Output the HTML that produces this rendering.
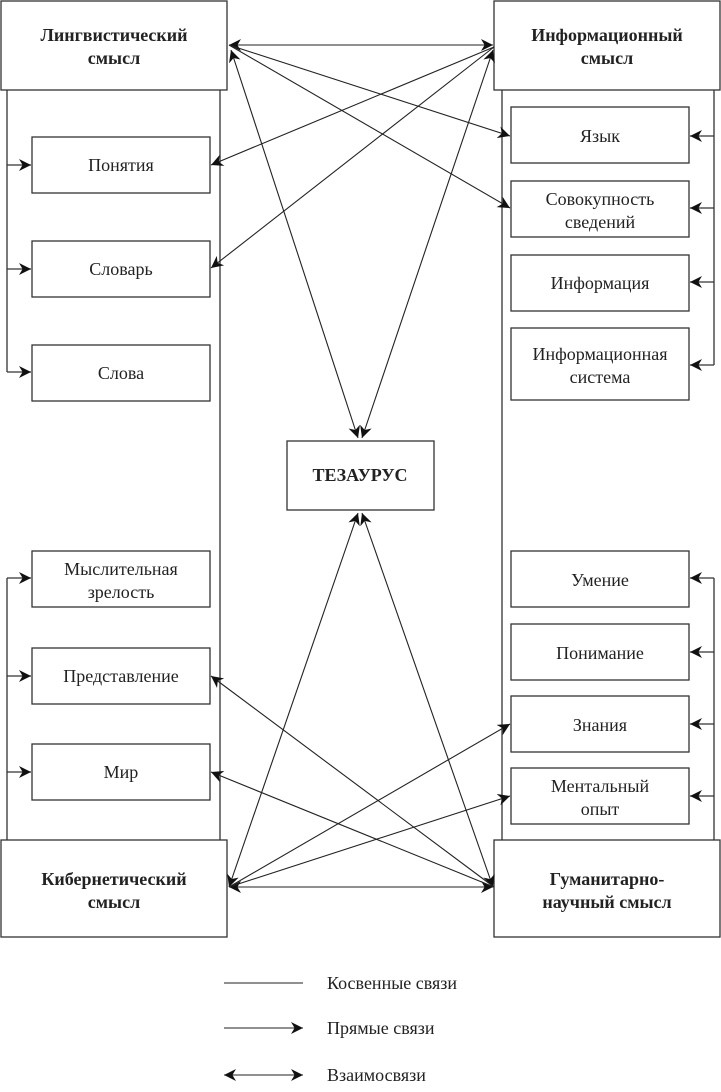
<!DOCTYPE html>
<html><head><meta charset="utf-8"><style>
body{margin:0;background:#fff}
svg{display:block}
text{font-family:"Liberation Serif",serif;font-size:18px;fill:#222}
.b{font-weight:bold}
</style></head><body>
<svg width="721" height="1092" viewBox="0 0 721 1092">
<defs>
<marker id="a" viewBox="0 0 10 10" refX="10" refY="5" markerWidth="12" markerHeight="12" markerUnits="userSpaceOnUse" orient="auto-start-reverse"><path d="M0,0 L10,5 L0,10 L3,5 z" fill="#111"/></marker>
</defs>
<g fill="none" stroke="#333" stroke-width="1.3">
<path d="M7,90 V372 M7,578 V840 M220,90 V840 M502,90 V840 M714,90 V365 M714,578 V840"/>
</g>
<g fill="none" stroke="#333" stroke-width="1.3" marker-end="url(#a)">
<path d="M7,165 H31"/><path d="M7,269 H31"/><path d="M7,372 H31"/>
<path d="M7,578 H31"/><path d="M7,676 H31"/><path d="M7,772 H31"/>
<path d="M714,136 H690"/><path d="M714,208 H690"/><path d="M714,282 H690"/><path d="M714,365 H690"/>
<path d="M714,578 H690"/><path d="M714,652 H690"/><path d="M714,724 H690"/><path d="M714,796 H690"/>
</g>
<g fill="none" stroke="#333" stroke-width="1.3">
<rect x="1" y="1" width="226" height="89" fill="#fff"/>
<rect x="494" y="1" width="226" height="89" fill="#fff"/>
<rect x="1" y="840" width="226" height="97" fill="#fff"/>
<rect x="494" y="840" width="226" height="97" fill="#fff"/>
<rect x="287" y="441" width="147" height="69"/>
<rect x="32" y="137" width="178" height="56"/>
<rect x="32" y="241" width="178" height="56"/>
<rect x="32" y="345" width="178" height="56"/>
<rect x="32" y="551" width="178" height="56"/>
<rect x="32" y="648" width="178" height="56"/>
<rect x="32" y="744" width="178" height="56"/>
<rect x="511" y="107" width="178" height="56"/>
<rect x="511" y="181" width="178" height="56"/>
<rect x="511" y="255" width="178" height="56"/>
<rect x="511" y="328" width="178" height="72"/>
<rect x="511" y="551" width="178" height="56"/>
<rect x="511" y="624" width="178" height="56"/>
<rect x="511" y="696" width="178" height="56"/>
<rect x="511" y="768" width="178" height="56"/>
</g>
<g fill="none" stroke="#222" stroke-width="1.1">
<line x1="229" y1="45" x2="493" y2="45" marker-start="url(#a)" marker-end="url(#a)"/>
<line x1="494" y1="47" x2="211" y2="165" marker-end="url(#a)"/>
<line x1="494" y1="47" x2="211" y2="268" marker-end="url(#a)"/>
<line x1="229" y1="45" x2="510" y2="136" marker-end="url(#a)"/>
<line x1="229" y1="45" x2="510" y2="208" marker-end="url(#a)"/>
<line x1="231" y1="50" x2="358" y2="438" marker-start="url(#a)" marker-end="url(#a)"/>
<line x1="493" y1="50" x2="362" y2="438" marker-start="url(#a)" marker-end="url(#a)"/>
<line x1="229" y1="887" x2="358" y2="513" marker-start="url(#a)" marker-end="url(#a)"/>
<line x1="493" y1="887" x2="362" y2="513" marker-start="url(#a)" marker-end="url(#a)"/>
<line x1="229" y1="887" x2="493" y2="887" marker-start="url(#a)" marker-end="url(#a)"/>
<line x1="494" y1="887" x2="211" y2="676" marker-end="url(#a)"/>
<line x1="494" y1="887" x2="211" y2="772" marker-end="url(#a)"/>
<line x1="229" y1="887" x2="510" y2="724" marker-end="url(#a)"/>
<line x1="229" y1="887" x2="510" y2="796" marker-end="url(#a)"/>
<line x1="224" y1="983" x2="303" y2="983"/>
<line x1="224" y1="1028" x2="303" y2="1028" marker-end="url(#a)"/>
<line x1="224" y1="1075" x2="303" y2="1075" marker-start="url(#a)" marker-end="url(#a)"/>
</g>
<g text-anchor="middle">
<text class="b" x="114" y="41">Лингвистический</text><text class="b" x="114" y="64">смысл</text>
<text class="b" x="607" y="41">Информационный</text><text class="b" x="607" y="64">смысл</text>
<text class="b" x="114" y="885">Кибернетический</text><text class="b" x="114" y="908">смысл</text>
<text class="b" x="607" y="885">Гуманитарно-</text><text class="b" x="607" y="908">научный смысл</text>
<text class="b" x="360" y="481">ТЕЗАУРУС</text>
<text x="121" y="171">Понятия</text>
<text x="121" y="275">Словарь</text>
<text x="121" y="379">Слова</text>
<text x="121" y="575">Мыслительная</text><text x="121" y="598">зрелость</text>
<text x="121" y="682">Представление</text>
<text x="121" y="778">Мир</text>
<text x="600" y="142">Язык</text>
<text x="600" y="205">Совокупность</text><text x="600" y="228">сведений</text>
<text x="600" y="289">Информация</text>
<text x="600" y="360">Информационная</text><text x="600" y="383">система</text>
<text x="600" y="586">Умение</text>
<text x="600" y="659">Понимание</text>
<text x="600" y="731">Знания</text>
<text x="600" y="792">Ментальный</text><text x="600" y="815">опыт</text>
</g>
<text x="327" y="989">Косвенные связи</text>
<text x="327" y="1034">Прямые связи</text>
<text x="327" y="1081">Взаимосвязи</text>
</svg>
</body></html>
